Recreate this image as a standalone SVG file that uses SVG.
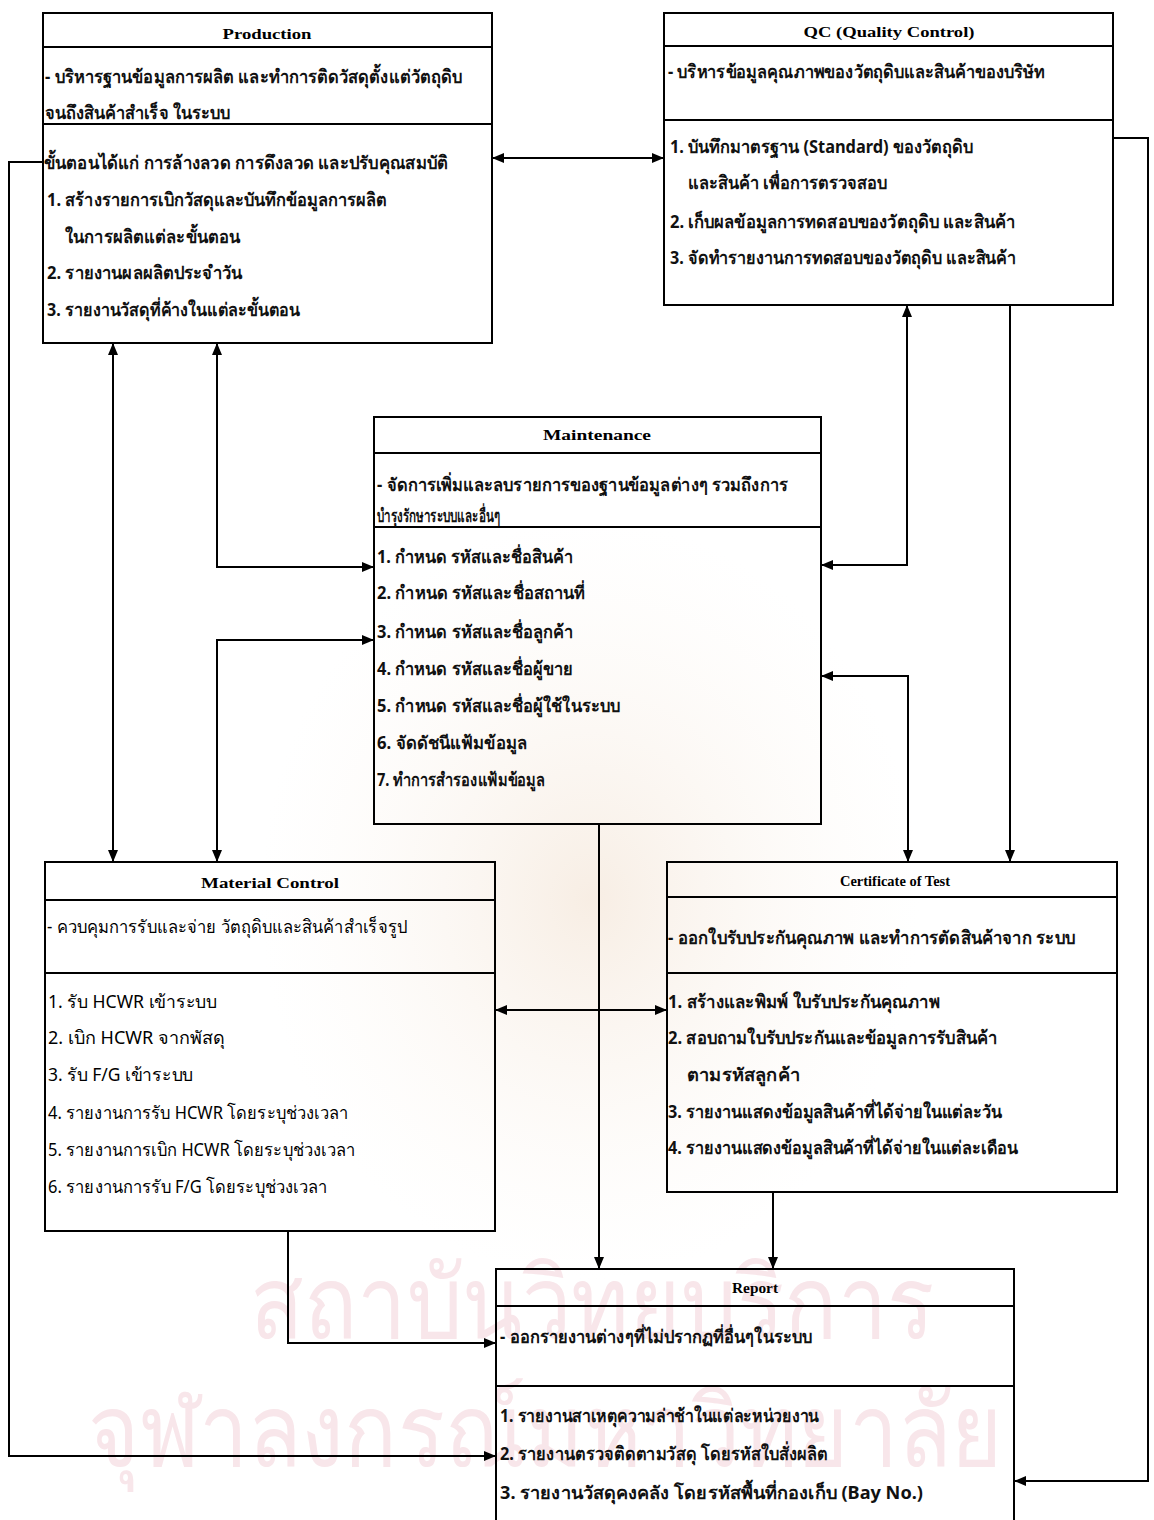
<svg xmlns="http://www.w3.org/2000/svg" width="1154" height="1520" viewBox="0 0 1154 1520">
  <style>
    .box { fill: none; stroke: #000; stroke-width: 2; }
    .div { stroke: #000; stroke-width: 2; }
    .title { font-family: "Liberation Serif", "DejaVu Serif", serif; font-weight: bold; font-size: 14px; fill: #000; text-anchor: middle; }
    .th { font-family: "Noto Sans", "DejaVu Sans", sans-serif; font-size: 18px; font-weight: bold; fill: #111; }
    .th.n { font-weight: normal; fill: #000; }
    .wm { font-family: "Noto Sans", "DejaVu Sans", sans-serif; font-size: 100px; fill: #f8e6ea; }
    .conn { fill: none; stroke: #000; stroke-width: 2; }
  </style>
  <defs>
    <marker id="ah" viewBox="0 0 12 10" refX="12" refY="5" markerWidth="12" markerHeight="10" orient="auto-start-reverse" markerUnits="userSpaceOnUse">
      <path d="M0,0 L12,5 L0,10 z" fill="#000"/>
    </marker>
    <radialGradient id="seal" cx="0.5" cy="0.5" r="0.5">
      <stop offset="0" stop-color="#f4e6d8" stop-opacity="0.7"/>
      <stop offset="1" stop-color="#fbf6f0" stop-opacity="0"/>
    </radialGradient>
  </defs>

  <rect width="1154" height="1520" fill="#fff"/>

  <!-- faint background emblem and institution lettering -->
  <g id="watermark">
    <ellipse cx="590" cy="900" rx="330" ry="380" fill="url(#seal)"/>
    <text class="wm" x="250" y="1338" textLength="685" lengthAdjust="spacingAndGlyphs">สถาบันวิทยบริการ</text>
    <text class="wm" x="88" y="1466" textLength="915" lengthAdjust="spacingAndGlyphs">จุฬาลงกรณ์มหาวิทยาลัย</text>
  </g>

  <!-- connectors -->
  <g id="connectors">
    <path class="conn" d="M492,158 H664" marker-start="url(#ah)" marker-end="url(#ah)"/>
    <path class="conn" d="M43,162 H9 V1456 H496" marker-end="url(#ah)"/>
    <path class="conn" d="M1113,138 H1148 V1481 H1014" marker-end="url(#ah)"/>
    <path class="conn" d="M113,343 V862" marker-start="url(#ah)" marker-end="url(#ah)"/>
    <path class="conn" d="M217,343 V567 H374" marker-start="url(#ah)" marker-end="url(#ah)"/>
    <path class="conn" d="M374,640 H217 V862" marker-start="url(#ah)" marker-end="url(#ah)"/>
    <path class="conn" d="M907,305 V565 H821" marker-start="url(#ah)" marker-end="url(#ah)"/>
    <path class="conn" d="M821,676 H908 V862" marker-start="url(#ah)" marker-end="url(#ah)"/>
    <path class="conn" d="M1010,305 V862" marker-end="url(#ah)"/>
    <path class="conn" d="M495,1010 H667" marker-start="url(#ah)" marker-end="url(#ah)"/>
    <path class="conn" d="M599,824 V1269" marker-end="url(#ah)"/>
    <path class="conn" d="M773,1192 V1269" marker-end="url(#ah)"/>
    <path class="conn" d="M288,1231 V1343 H496" marker-end="url(#ah)"/>
  </g>

  <!-- Production -->
  <g id="production">
    <rect class="box" x="43" y="13" width="449" height="330"/>
    <line class="div" x1="43" y1="47" x2="492" y2="47"/>
    <line class="div" x1="43" y1="124" x2="492" y2="124"/>
    <text class="title" x="267" y="39" textLength="89" lengthAdjust="spacingAndGlyphs">Production</text>
    <text class="th" x="45" y="83" textLength="417" lengthAdjust="spacingAndGlyphs">- บริหารฐานข้อมูลการผลิต และทำการติดวัสดุตั้งแต่วัตถุดิบ</text>
    <text class="th" x="45" y="119" textLength="185" lengthAdjust="spacingAndGlyphs">จนถึงสินค้าสำเร็จ ในระบบ</text>
    <text class="th" x="44" y="169" textLength="404" lengthAdjust="spacingAndGlyphs">ขั้นตอนได้แก่ การล้างลวด การดึงลวด และปรับคุณสมบัติ</text>
    <text class="th" x="47" y="206" textLength="340" lengthAdjust="spacingAndGlyphs">1. สร้างรายการเบิกวัสดุและบันทึกข้อมูลการผลิต</text>
    <text class="th" x="65" y="243" textLength="175" lengthAdjust="spacingAndGlyphs">ในการผลิตแต่ละขั้นตอน</text>
    <text class="th" x="47" y="279" textLength="195" lengthAdjust="spacingAndGlyphs">2. รายงานผลผลิตประจำวัน</text>
    <text class="th" x="47" y="316" textLength="253" lengthAdjust="spacingAndGlyphs">3. รายงานวัสดุที่ค้างในแต่ละขั้นตอน</text>
  </g>

  <!-- QC -->
  <g id="qc">
    <rect class="box" x="664" y="13" width="449" height="292"/>
    <line class="div" x1="664" y1="46" x2="1113" y2="46"/>
    <line class="div" x1="664" y1="120" x2="1113" y2="120"/>
    <text class="title" x="889" y="37" textLength="171" lengthAdjust="spacingAndGlyphs">QC (Quality Control)</text>
    <text class="th" x="668" y="78" textLength="377" lengthAdjust="spacingAndGlyphs">- บริหารข้อมูลคุณภาพของวัตถุดิบและสินค้าของบริษัท</text>
    <text class="th" x="670" y="153" textLength="303" lengthAdjust="spacingAndGlyphs">1. บันทึกมาตรฐาน (Standard) ของวัตถุดิบ</text>
    <text class="th" x="688" y="189" textLength="199" lengthAdjust="spacingAndGlyphs">และสินค้า เพื่อการตรวจสอบ</text>
    <text class="th" x="670" y="228" textLength="345" lengthAdjust="spacingAndGlyphs">2. เก็บผลข้อมูลการทดสอบของวัตถุดิบ และสินค้า</text>
    <text class="th" x="670" y="264" textLength="346" lengthAdjust="spacingAndGlyphs">3. จัดทำรายงานการทดสอบของวัตถุดิบ และสินค้า</text>
  </g>

  <!-- Maintenance -->
  <g id="maintenance">
    <rect class="box" x="374" y="417" width="447" height="407"/>
    <line class="div" x1="374" y1="453" x2="821" y2="453"/>
    <line class="div" x1="374" y1="527" x2="821" y2="527"/>
    <text class="title" x="597" y="440" textLength="108" lengthAdjust="spacingAndGlyphs">Maintenance</text>
    <text class="th" x="377" y="491" textLength="411" lengthAdjust="spacingAndGlyphs">- จัดการเพิ่มและลบรายการของฐานข้อมูลต่างๆ รวมถึงการ</text>
    <text class="th" x="377" y="522" textLength="123" lengthAdjust="spacingAndGlyphs">บำรุงรักษาระบบและอื่นๆ</text>
    <text class="th" x="377" y="563" textLength="196" lengthAdjust="spacingAndGlyphs">1. กำหนด รหัสและชื่อสินค้า</text>
    <text class="th" x="377" y="599" textLength="208" lengthAdjust="spacingAndGlyphs">2. กำหนด รหัสและชื่อสถานที่</text>
    <text class="th" x="377" y="638" textLength="196" lengthAdjust="spacingAndGlyphs">3. กำหนด รหัสและชื่อลูกค้า</text>
    <text class="th" x="377" y="675" textLength="196" lengthAdjust="spacingAndGlyphs">4. กำหนด รหัสและชื่อผู้ขาย</text>
    <text class="th" x="377" y="712" textLength="243" lengthAdjust="spacingAndGlyphs">5. กำหนด รหัสและชื่อผู้ใช้ในระบบ</text>
    <text class="th" x="377" y="749" textLength="150" lengthAdjust="spacingAndGlyphs">6. จัดดัชนีแฟ้มข้อมูล</text>
    <text class="th" x="377" y="786" textLength="168" lengthAdjust="spacingAndGlyphs">7. ทำการสำรองแฟ้มข้อมูล</text>
  </g>

  <!-- Material Control -->
  <g id="material-control">
    <rect class="box" x="45" y="862" width="450" height="369"/>
    <line class="div" x1="45" y1="900" x2="495" y2="900"/>
    <line class="div" x1="45" y1="973" x2="495" y2="973"/>
    <text class="title" x="270" y="888" textLength="138" lengthAdjust="spacingAndGlyphs">Material Control</text>
    <text class="th n" x="47" y="933" textLength="360" lengthAdjust="spacingAndGlyphs">- ควบคุมการรับและจ่าย วัตถุดิบและสินค้าสำเร็จรูป</text>
    <text class="th n" x="48" y="1008" textLength="169" lengthAdjust="spacingAndGlyphs">1. รับ HCWR เข้าระบบ</text>
    <text class="th n" x="48" y="1044" textLength="177" lengthAdjust="spacingAndGlyphs">2. เบิก HCWR จากพัสดุ</text>
    <text class="th n" x="48" y="1081" textLength="145" lengthAdjust="spacingAndGlyphs">3. รับ F/G เข้าระบบ</text>
    <text class="th n" x="48" y="1119" textLength="300" lengthAdjust="spacingAndGlyphs">4. รายงานการรับ HCWR โดยระบุช่วงเวลา</text>
    <text class="th n" x="48" y="1156" textLength="307" lengthAdjust="spacingAndGlyphs">5. รายงานการเบิก HCWR โดยระบุช่วงเวลา</text>
    <text class="th n" x="48" y="1193" textLength="279" lengthAdjust="spacingAndGlyphs">6. รายงานการรับ F/G โดยระบุช่วงเวลา</text>
  </g>

  <!-- Certificate of Test -->
  <g id="certificate-of-test">
    <rect class="box" x="667" y="862" width="450" height="330"/>
    <line class="div" x1="667" y1="897" x2="1117" y2="897"/>
    <line class="div" x1="667" y1="973" x2="1117" y2="973"/>
    <text class="title" x="895" y="886" textLength="110" lengthAdjust="spacingAndGlyphs">Certificate of Test</text>
    <text class="th" x="668" y="944" textLength="407" lengthAdjust="spacingAndGlyphs">- ออกใบรับประกันคุณภาพ และทำการตัดสินค้าจาก ระบบ</text>
    <text class="th" x="668" y="1008" textLength="272" lengthAdjust="spacingAndGlyphs">1. สร้างและพิมพ์ ใบรับประกันคุณภาพ</text>
    <text class="th" x="668" y="1044" textLength="329" lengthAdjust="spacingAndGlyphs">2. สอบถามใบรับประกันและข้อมูลการรับสินค้า</text>
    <text class="th" x="687" y="1081" textLength="113" lengthAdjust="spacingAndGlyphs">ตามรหัสลูกค้า</text>
    <text class="th" x="668" y="1118" textLength="334" lengthAdjust="spacingAndGlyphs">3. รายงานแสดงข้อมูลสินค้าที่ได้จ่ายในแต่ละวัน</text>
    <text class="th" x="668" y="1154" textLength="350" lengthAdjust="spacingAndGlyphs">4. รายงานแสดงข้อมูลสินค้าที่ได้จ่ายในแต่ละเดือน</text>
  </g>

  <!-- Report -->
  <g id="report">
    <path class="box" d="M496,1530 V1269 H1014 V1530"/>
    <line class="div" x1="496" y1="1306" x2="1014" y2="1306"/>
    <line class="div" x1="496" y1="1386" x2="1014" y2="1386"/>
    <text class="title" x="755" y="1293" textLength="46" lengthAdjust="spacingAndGlyphs">Report</text>
    <text class="th" x="500" y="1343" textLength="312" lengthAdjust="spacingAndGlyphs">- ออกรายงานต่างๆที่ไม่ปรากฏที่อื่นๆในระบบ</text>
    <text class="th" x="500" y="1422" textLength="319" lengthAdjust="spacingAndGlyphs">1. รายงานสาเหตุความล่าช้าในแต่ละหน่วยงาน</text>
    <text class="th" x="500" y="1460" textLength="328" lengthAdjust="spacingAndGlyphs">2. รายงานตรวจติดตามวัสดุ โดยรหัสใบสั่งผลิต</text>
    <text class="th" x="500" y="1499" textLength="423" lengthAdjust="spacingAndGlyphs">3. รายงานวัสดุคงคลัง โดยรหัสพื้นที่กองเก็บ (Bay No.)</text>
  </g>
</svg>
